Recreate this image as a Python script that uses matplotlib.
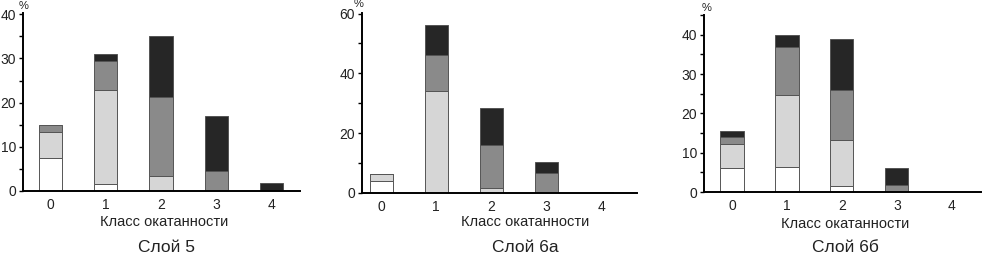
import numpy as np
import matplotlib
matplotlib.use("Agg")
import matplotlib.pyplot as plt

plt.rcParams['font.family'] = ['Liberation Sans', 'DejaVu Sans']

classes = [0, 1, 2, 3, 4]
panel_titles = ['Слой 5', 'Слой 6а', 'Слой 6б']
xlabel_text = 'Класс окатанности'

# stacked segments (bottom -> top): white, light gray, medium gray, dark
white_5 = [7.4, 1.5, 0.0, 0.0, 0.0]
light_5 = [5.9, 21.3, 3.3, 0.0, 0.0]
mid_5 = [1.7, 6.7, 17.9, 4.6, 0.0]
dark_5 = [0.0, 1.5, 13.9, 12.4, 1.9]

white_6a = [4.0, 0.0, 0.0, 0.0, 0.0]
light_6a = [2.4, 34.0, 1.6, 0.0, 0.0]
mid_6a = [0.0, 12.0, 14.5, 6.7, 0.0]
dark_6a = [0.0, 10.3, 12.2, 3.6, 0.3]

white_6b = [6.0, 6.3, 1.4, 0.0, 0.0]
light_6b = [6.2, 18.3, 11.7, 0.0, 0.0]
mid_6b = [1.7, 12.2, 12.9, 1.7, 0.0]
dark_6b = [1.5, 3.2, 13.0, 4.5, 0.0]

colors = ['#ffffff', '#d6d6d6', '#8a8a8a', '#262626']

W, H = 982, 257
fig = plt.figure(figsize=(W / 100, H / 100), dpi=100)

def px(x0, y0, x1, y1):
    # pixel box -> figure fraction rect
    return [x0 / W, 1 - y1 / H, (x1 - x0) / W, (y1 - y0) / H]

panels = [
    dict(rect=px(23, 13, 300, 191), data=[white_5, light_5, mid_5, dark_5],
         ylim=40.3, xlim=(-0.5, 4.52), major=10, minor=5,
         pct=(24, 6), xl=(164, 222), tt=(167, 247)),
    dict(rect=px(362, 13, 637, 193), data=[white_6a, light_6a, mid_6a, dark_6a],
         ylim=60.2, xlim=(-0.35, 4.65), major=20, minor=10,
         pct=(359, 4), xl=(525, 222), tt=(525, 247)),
    dict(rect=px(704, 15, 981, 192), data=[white_6b, light_6b, mid_6b, dark_6b],
         ylim=45.0, xlim=(-0.51, 4.53), major=10, minor=5,
         pct=(707, 8), xl=(845, 224), tt=(845, 248)),
]

txt = '#222222'
for p, title in zip(panels, panel_titles):
    ax = fig.add_axes(p['rect'])
    bottom = np.zeros(len(classes))
    for seg, c in zip(p['data'], colors):
        seg = np.array(seg)
        ax.bar(classes, seg, bottom=bottom, width=0.42, color=c,
               edgecolor='#555555', linewidth=0.7, zorder=2)
        bottom += seg
    ax.set_xlim(*p['xlim'])
    ax.set_ylim(0, p['ylim'])
    ax.set_yticks(np.arange(0, p['ylim'] + 0.01, p['major']))
    ax.set_yticks(np.arange(0, p['ylim'] + 0.01, p['minor']), minor=True)
    ax.set_xticks(classes)
    ax.tick_params(axis='x', length=0, labelsize=10, pad=5, labelcolor=txt)
    ax.tick_params(axis='y', which='both', direction='out', length=3,
                   width=1, labelsize=10, pad=2, labelcolor=txt)
    for s in ['top', 'right']:
        ax.spines[s].set_visible(False)
    ax.spines['left'].set_linewidth(1.4)
    ax.spines['bottom'].set_linewidth(1.4)
    ax.spines['bottom'].set_zorder(3)
    fig.text(p['pct'][0] / W, 1 - p['pct'][1] / H, '%', fontsize=8,
             ha='center', va='center', color=txt)
    fig.text(p['xl'][0] / W, 1 - p['xl'][1] / H, xlabel_text, fontsize=10.5,
             ha='center', va='center', color=txt)
    fig.text(p['tt'][0] / W, 1 - p['tt'][1] / H, title, fontsize=12.5,
             ha='center', va='center', color=txt)

fig.savefig('out.png', dpi=100)
